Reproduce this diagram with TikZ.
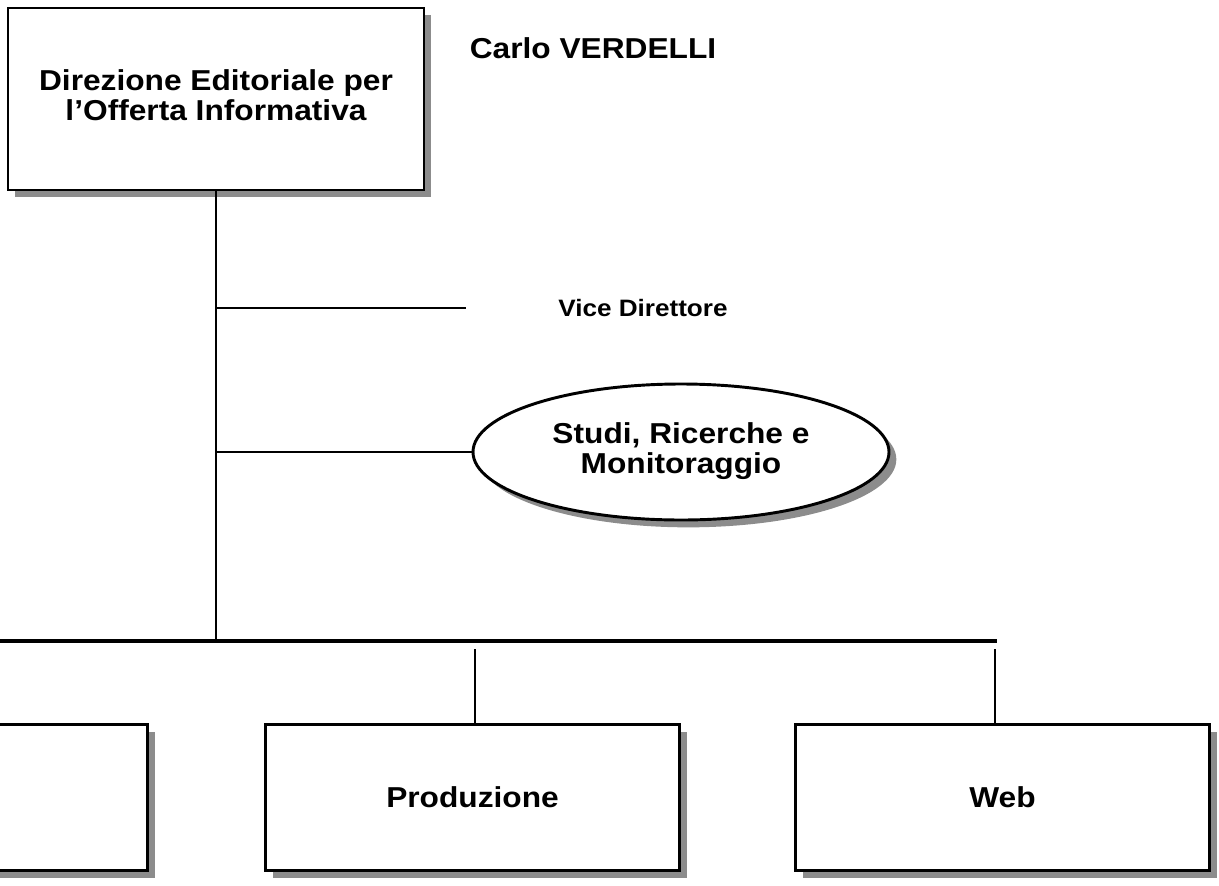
\documentclass[tikz,border=0pt]{standalone}
\usepackage{fontspec}
\setmainfont{Liberation Sans}
\usepackage{graphicx}
\usetikzlibrary{shapes.geometric,shadows}

\tikzstyle{unit}=[draw, line width=2.2pt, fill=white, inner sep=0pt,
  drop shadow={shadow xshift=5.5pt, shadow yshift=-5.5pt,
    fill=black!45, opacity=1}]
\tikzstyle{ufficio}=[unit, rectangle, minimum width=311pt, minimum height=109pt]
\tikzstyle{vertice}=[ufficio, minimum width=312pt, minimum height=136.5pt]
\tikzstyle{staff}=[unit, ellipse, minimum width=312pt, minimum height=102pt]
\tikzstyle{nome}=[inner sep=0pt, anchor=base]
\tikzstyle{ramo}=[draw, line width=1.5pt]
\tikzstyle{dorsale}=[draw, line width=2.4pt]
\newcommand{\textsize}{\fontsize{21.6}{22.5}\selectfont\bfseries}
\newcommand{\smallsize}{\fontsize{17.8}{19}\selectfont\bfseries}
\newcommand{\wide}[1]{\scalebox{1.1}[1]{#1}}
\newcommand{\twolines}[2]{\wide{\begin{tabular}{@{}c@{}}#1\\#2\end{tabular}}}

\begin{document}
\begin{tikzpicture}[x=0.75pt, y=-0.75pt]
  \useasboundingbox (0,0) rectangle (1219,885);
  \clip (0,0) rectangle (1219,885);

  % Direzione
  \node (dir) [vertice] at (216,99)
    {\textsize\twolines{Direzione Editoriale per}{l’Offerta Informativa}};
  \node (carlo) [nome] at (593,58) {\textsize\wide{Carlo VERDELLI}};

  % Staff
  \coordinate (vice) at (466,308);
  \node (vicetxt) [nome] at (643,316) {\smallsize\wide{Vice Direttore}};
  \node (studi) [staff] at (681,452)
    {\textsize\twolines{Studi, Ricerche e}{Monitoraggio}};

  % Strutture
  \node (seg) [ufficio] at (-59.5,797.5) {};
  \node (prod) [ufficio] at (472.5,797.5) {\textsize\wide{Produzione}};
  \node (web) [ufficio] at (1002.5,797.5) {\textsize\wide{Web}};

  % Draw lines
  \coordinate (bus) at (216,641);
  \coordinate (busW) at (0,641);
  \coordinate (busE) at (997,641);
  \coordinate (dropP) at (475,649);
  \coordinate (dropW) at (995,649);

  \path [ramo] (dir.south -| bus) -- (bus);
  \path [ramo] (dir.south |- vice) -- (vice);
  \path [ramo] (dir.south |- studi) -- (studi.west);
  \path [dorsale] (busW) -- (busE);
  \path [ramo] (dropP) -- (dropP |- prod.north);
  \path [ramo] (dropW) -- (dropW |- web.north);

\end{tikzpicture}
\end{document}
